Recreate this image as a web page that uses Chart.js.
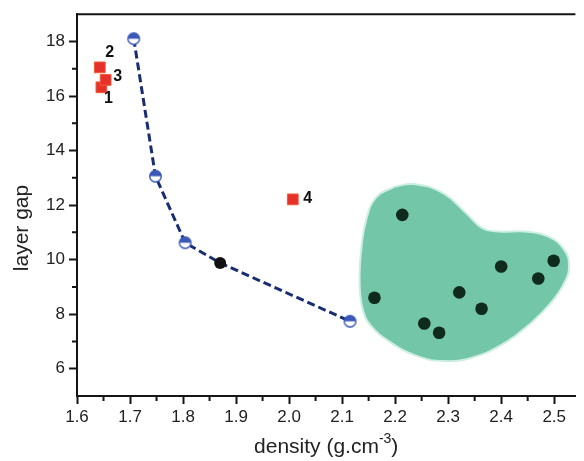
<!DOCTYPE html>
<html>
<head>
<meta charset="utf-8">
<script src="https://cdn.jsdelivr.net/npm/chart.js@4.4.1/dist/chart.umd.min.js"></script>
<style>
  html, body { margin: 0; padding: 0; background: #fff; }
  #wrap { width: 584px; height: 461px; }
</style>
</head>
<body>
<div id="wrap"><canvas id="chart"></canvas></div>
<script>
/* ---------- DATA ---------- */
const xMajor = [1.6, 1.7, 1.8, 1.9, 2.0, 2.1, 2.2, 2.3, 2.4, 2.5];
const xMajorLabels = ["1.6", "1.7", "1.8", "1.9", "2.0", "2.1", "2.2", "2.3", "2.4", "2.5"];
const xMinor = [1.65, 1.75, 1.85, 1.95, 2.05, 2.15, 2.25, 2.35, 2.45];
const yMajor = [6, 8, 10, 12, 14, 16, 18];
const yMajorLabels = ["6", "8", "10", "12", "14", "16", "18"];
const yMinor = [7, 9, 11, 13, 15, 17];

// dashed curve (4th point is the solid black one)
const lineX = [1.707, 1.748, 1.804, 1.87, 2.115];
const lineY = [18.1, 13.06, 10.62, 9.88, 7.74];

// red squares and their numbers
const redX = [1.646, 1.643, 1.654, 2.007];
const redY = [16.32, 17.05, 16.59, 12.21];
const redLabels = ["1", "2", "3", "4"];

// black dots inside the green region
const dotX = [2.2135, 2.161, 2.255, 2.283, 2.321, 2.363, 2.4, 2.47, 2.499];
const dotY = [11.64, 8.6, 7.66, 7.32, 8.8, 8.2, 9.75, 9.31, 9.96];

// outline of the green region
const blobX = [2.198, 2.235, 2.291, 2.334, 2.365, 2.396, 2.445, 2.488, 2.519, 2.528, 2.519, 2.494,
  2.457, 2.408, 2.346, 2.291, 2.241, 2.192, 2.155, 2.139, 2.133, 2.136, 2.146, 2.165, 2.198];
const blobY = [12.67, 12.77, 12.43, 11.7, 11.15, 11.03, 11.03, 10.85, 10.36, 9.75, 9.15, 8.42,
  7.69, 6.96, 6.41, 6.28, 6.47, 6.96, 7.56, 8.17, 9.15, 10.36, 11.5, 12.3, 12.67];

const xTitle = "density (g.cm";
const xTitleSup = "-3";
const yTitle = "layer gap";

/* ---------- HELPERS ---------- */
const pts = (xs, ys) => xs.map((x, i) => ({ x, y: ys[i] }));
const FONT = "'Liberation Sans', Arial, sans-serif";
const AXIS = "#151515";

function halfDot() {
  const c = document.createElement("canvas");
  c.width = c.height = 15;
  const g = c.getContext("2d");
  g.beginPath();
  g.arc(7.5, 7.5, 5.8, 0, Math.PI * 2);
  g.fillStyle = "#fff";
  g.fill();
  g.beginPath();
  g.arc(7.5, 7.5, 5.8, Math.PI, Math.PI * 2);
  g.closePath();
  g.fillStyle = "#3b58b9";
  g.fill();
  g.beginPath();
  g.arc(7.5, 7.5, 5.8, 0, Math.PI * 2);
  g.lineWidth = 1.4;
  g.strokeStyle = "#3b58b9";
  g.stroke();
  return c;
}
const halfImg = halfDot();

/* ---------- DECOR PLUGIN ---------- */
const decor = {
  id: "decor",
  afterDraw(chart) {
    const { ctx, chartArea: a, scales } = chart;
    const sx = scales.x, sy = scales.y;
    ctx.save();
    // top frame line
    ctx.strokeStyle = AXIS;
    ctx.lineWidth = 2;
    ctx.beginPath();
    ctx.moveTo(a.left - 1, a.top);
    ctx.lineTo(a.right, a.top);
    ctx.stroke();
    // minor ticks
    ctx.beginPath();
    xMinor.forEach((v) => {
      const px = sx.getPixelForValue(v);
      ctx.moveTo(px, a.bottom);
      ctx.lineTo(px, a.bottom + 5);
    });
    yMinor.forEach((v) => {
      const py = sy.getPixelForValue(v);
      ctx.moveTo(a.left, py);
      ctx.lineTo(a.left - 5, py);
    });
    ctx.stroke();

    // numbers next to red squares
    const offs = [[7, 11], [10, -15], [12, -3], [15, -1]];
    ctx.fillStyle = "#111";
    ctx.font = "bold 16px " + FONT;
    ctx.textAlign = "center";
    ctx.textBaseline = "middle";
    redLabels.forEach((t, i) => {
      const px = sx.getPixelForValue(redX[i]) + offs[i][0];
      const py = sy.getPixelForValue(redY[i]) + offs[i][1];
      ctx.fillText(t, px, py);
    });

    // x title with superscript
    ctx.fillStyle = "#222";
    ctx.font = "21px " + FONT;
    ctx.textBaseline = "alphabetic";
    ctx.textAlign = "left";
    const w1 = ctx.measureText(xTitle).width;
    ctx.font = "14px " + FONT;
    const w2 = ctx.measureText(xTitleSup).width;
    ctx.font = "21px " + FONT;
    const w3 = ctx.measureText(")").width;
    let x0 = (a.left + a.right) / 2 - (w1 + w2 + w3) / 2;
    const base = 453;
    ctx.fillText(xTitle, x0, base);
    ctx.font = "14px " + FONT;
    ctx.fillText(xTitleSup, x0 + w1, base - 10);
    ctx.font = "21px " + FONT;
    ctx.fillText(")", x0 + w1 + w2, base);

    // y title
    ctx.translate(22, 228);
    ctx.rotate(-Math.PI / 2);
    ctx.textAlign = "center";
    ctx.textBaseline = "middle";
    ctx.fillText(yTitle, 0, 0);
    ctx.restore();
  },
};

/* ---------- CHART ---------- */
new Chart(document.getElementById("chart"), {
  type: "scatter",
  data: {
    datasets: [
      {
        data: pts(lineX, lineY),
        showLine: true,
        borderColor: "#1b2d72",
        borderWidth: 3,
        borderDash: [8, 4],
        tension: 0,
        pointStyle: (c) => (c.dataIndex === 3 ? "circle" : halfImg),
        pointRadius: 6,
        pointBackgroundColor: "#111",
        pointBorderColor: "#111",
        pointBorderWidth: 0,
        order: 1,
      },
      {
        data: pts(redX, redY),
        pointStyle: "rect",
        pointRadius: 7.6,
        pointBackgroundColor: "#e6312a",
        pointBorderColor: "#f05a3a",
        pointBorderWidth: 1,
        order: 1,
      },
      {
        data: pts(dotX, dotY),
        pointStyle: "circle",
        pointRadius: 6.3,
        pointBackgroundColor: "#0f2b1d",
        pointBorderColor: "#0f2b1d",
        pointBorderWidth: 0,
        order: 2,
      },
      {
        data: pts(blobX, blobY),
        showLine: true,
        fill: "shape",
        tension: 0.45,
        pointRadius: 0,
        backgroundColor: "#73c7a8",
        borderColor: "#cdeee2",
        borderWidth: 2,
        order: 5,
      },
    ],
  },
  options: {
    responsive: true,
    maintainAspectRatio: false,
    animation: false,
    layout: { padding: { top: 14, right: 0, bottom: 0, left: 0 } },
    plugins: { legend: { display: false }, tooltip: { enabled: false } },
    scales: {
      x: {
        type: "linear",
        min: 1.6,
        max: 2.54,
        afterBuildTicks: (s) => { s.ticks = xMajor.map((v) => ({ value: v })); },
        afterFit: (s) => { s.height = 65; },
        ticks: {
          callback: (v) => xMajorLabels[xMajor.findIndex((m) => Math.abs(m - v) < 1e-6)],
          font: { family: FONT, size: 17 },
          color: "#222",
          padding: 3,
          maxRotation: 0,
          autoSkip: false,
        },
        grid: { drawOnChartArea: false, drawTicks: true, tickLength: 8, tickColor: AXIS, tickWidth: 2 },
        border: { color: AXIS, width: 2 },
      },
      y: {
        type: "linear",
        min: 5,
        max: 19,
        afterBuildTicks: (s) => { s.ticks = yMajor.map((v) => ({ value: v })); },
        afterFit: (s) => { s.width = 77; },
        ticks: {
          callback: (v) => yMajorLabels[yMajor.indexOf(v)],
          font: { family: FONT, size: 17 },
          color: "#222",
          padding: 4,
          autoSkip: false,
        },
        grid: { drawOnChartArea: false, drawTicks: true, tickLength: 8, tickColor: AXIS, tickWidth: 2 },
        border: { color: AXIS, width: 2 },
      },
    },
  },
  plugins: [decor],
});
</script>
</body>
</html>
